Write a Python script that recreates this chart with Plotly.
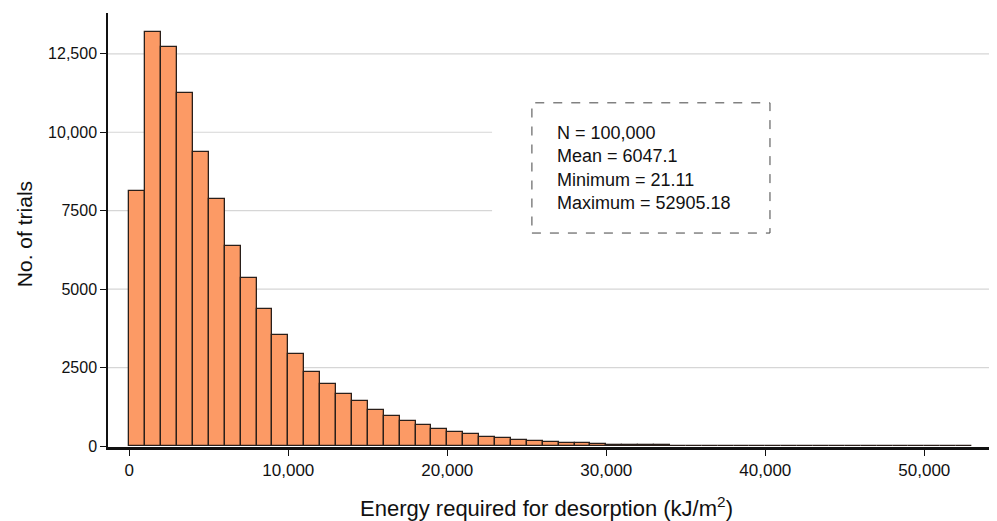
import plotly.graph_objects as go

# Histogram data: bins of width 1000 starting at 0
bin_width = 1000
bin_starts = [i * 1000 for i in range(53)]
counts = [8122, 13201, 12701, 11247, 9365, 7866, 6387, 5348, 4378, 3550,
          2945, 2371, 1989, 1670, 1425, 1148, 947, 797, 660, 552,
          437, 373, 297, 255, 201, 159, 137, 105, 90, 70,
          40, 32, 26, 20, 16, 13, 10, 8, 7, 6,
          5, 4, 3, 3, 2, 2, 0, 2, 1, 1,
          1, 0, 1]

x_tickvals = [0, 10000, 20000, 30000, 40000, 50000]
x_ticktext = ["0", "10,000", "20,000", "30,000", "40,000", "50,000"]
y_tickvals = [0, 2500, 5000, 7500, 10000, 12500]
y_ticktext = ["0", "2500", "5000", "7500", "10,000", "12,500"]
# gridlines interrupted by the statistics box
short_grid = [7500, 10000]

stats_lines = ["N = 100,000", "Mean = 6047.1", "Minimum = 21.11", "Maximum = 52905.18"]

centers = [s + bin_width / 2 for s in bin_starts]

fig = go.Figure()
fig.add_trace(go.Bar(
    x=centers, y=counts, width=bin_width,
    marker=dict(color="#FC9A65", line=dict(color="#2a1f1a", width=1.3)),
    showlegend=False, hoverinfo="x+y",
))

narrow = "Liberation Sans Narrow, Arial Narrow, Liberation Sans, Arial, sans-serif"
sans = "Liberation Sans, Arial, Helvetica, sans-serif"

# page body has an 8px default margin, so the figure is sized to fit the window
fig.update_layout(
    width=989, height=513,
    margin=dict(l=100, r=4, t=5, b=74),
    paper_bgcolor="white", plot_bgcolor="white",
    bargap=0,
    font=dict(family=sans, color="#111111"),
    xaxis=dict(
        range=[-1340, 54320], automargin=False,
        tickvals=x_tickvals, ticktext=x_ticktext,
        tickfont=dict(family=narrow, size=17, color="#111111"),
        ticks="outside", ticklen=6, tickcolor="#111111", tickwidth=1.2,
        showline=True, linecolor="#111111", linewidth=2.5,
        showgrid=False, zeroline=False,
    ),
    yaxis=dict(
        range=[-30, 13800], automargin=False,
        tickvals=y_tickvals, ticktext=y_ticktext,
        tickfont=dict(family=sans, size=16, color="#111111"),
        ticks="outside", ticklen=6, tickcolor="#111111", tickwidth=1.2,
        showline=True, linecolor="#111111", linewidth=1.5,
        showgrid=False, zeroline=False,
    ),
)

# gridlines drawn as shapes so the two behind the box can stop short
for v in y_tickvals[1:]:
    fig.add_shape(type="line", xref="x domain", yref="y",
                  x0=0, x1=0.434 if v in short_grid else 1.0, y0=v, y1=v,
                  line=dict(color="#d6d6d6", width=1.2), layer="below")

# axis titles
fig.add_annotation(
    xref="paper", yref="paper", x=0.495, y=-0.138, xanchor="center", yanchor="middle",
    showarrow=False, text="Energy required for desorption (kJ/m<sup>2</sup>)",
    font=dict(family=sans, size=22, color="#111111"),
)
fig.add_annotation(
    xref="paper", yref="paper", x=-0.094, y=0.49, xanchor="center", yanchor="middle",
    showarrow=False, text="No. of trials", textangle=-90,
    font=dict(family=sans, size=21, color="#111111"),
)

# dashed stats box
fig.add_shape(type="rect", xref="paper", yref="paper",
              x0=0.479, x1=0.748, y0=0.493, y1=0.793,
              fillcolor="rgba(0,0,0,0)", line=dict(color="#444444", width=1, dash="dash"),
              layer="above")
fig.add_annotation(
    xref="paper", yref="paper", x=0.505, y=0.752,
    xanchor="left", yanchor="top", align="left", showarrow=False,
    text="<br>".join(stats_lines),
    font=dict(family=sans, size=18, color="#111111"),
)

fig.write_html("out.html")
